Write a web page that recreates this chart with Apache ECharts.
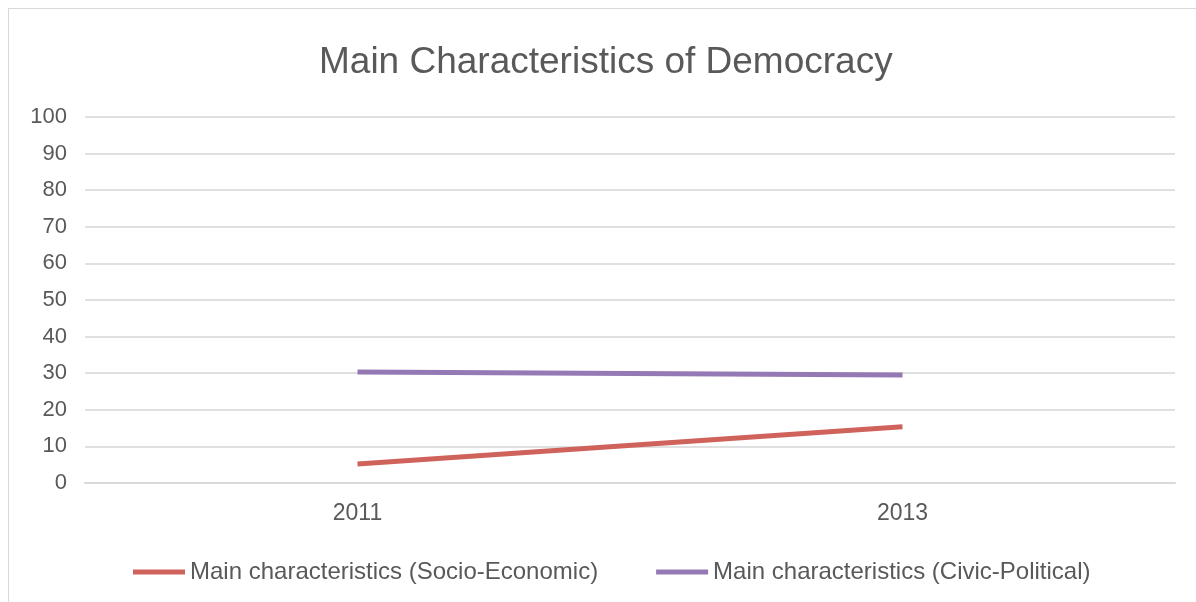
<!DOCTYPE html>
<html><head><meta charset="utf-8">
<script src="https://cdn.jsdelivr.net/npm/echarts@6/dist/echarts.min.js"></script>
<style>
html,body{margin:0;padding:0;background:#fff;overflow:hidden;}
#frame{position:absolute;left:8px;top:8px;width:1200px;height:610px;border:1px solid #d9d9d9;box-sizing:border-box;}
#c{position:absolute;left:0;top:0;width:1196px;height:602px;}
</style></head>
<body>
<div id="frame"></div>
<div id="c"></div>
<script>
const categories = ['2011', '2013'];
const socioEconomic = [5.2, 15.4];
const civicPolitical = [30.3, 29.5];
const yTicks = { min: 0, max: 100, interval: 10 };

const chart = echarts.init(document.getElementById('c'), null, { renderer: 'canvas' });
const font = 'Liberation Sans, Arial, sans-serif';
chart.setOption({
  backgroundColor: 'transparent',
  animation: false,
  title: {
    text: 'Main Characteristics of Democracy',
    left: 314, top: 39,
    textStyle: { fontFamily: font, fontSize: 37, fontWeight: 'normal', color: '#595959' }
  },
  legend: {
    left: 128, top: 555,
    icon: 'rect', itemWidth: 52, itemHeight: 5, itemGap: 58,
    textStyle: { fontFamily: font, fontSize: 24, color: '#595959', padding: [0, 0, 0, 0] },
    data: ['Main characteristics (Socio-Economic)', 'Main characteristics (Civic-Political)']
  },
  grid: { left: 85, right: 21, top: 117, bottom: 119, containLabel: false },
  xAxis: {
    type: 'category', data: categories, boundaryGap: true,
    axisLine: { show: true, lineStyle: { color: '#d9d9d9', width: 2 } },
    axisTick: { show: false },
    axisLabel: { fontFamily: font, fontSize: 23, color: '#595959', margin: 19 }
  },
  yAxis: {
    type: 'value', min: yTicks.min, max: yTicks.max, interval: yTicks.interval,
    axisLine: { show: false }, axisTick: { show: false },
    axisLabel: { fontFamily: font, fontSize: 22, color: '#595959', margin: 18 },
    splitLine: { lineStyle: { color: '#e0e0e0', width: 2 } }
  },
  series: [
    { name: 'Main characteristics (Socio-Economic)', type: 'line', data: socioEconomic,
      showSymbol: false, symbol: 'none', color: '#cf635b',
      lineStyle: { width: 5, color: '#cf635b', cap: 'butt' } },
    { name: 'Main characteristics (Civic-Political)', type: 'line', data: civicPolitical,
      showSymbol: false, symbol: 'none', color: '#9579b4',
      lineStyle: { width: 5, color: '#9579b4', cap: 'butt' } }
  ]
});
</script>
</body></html>
